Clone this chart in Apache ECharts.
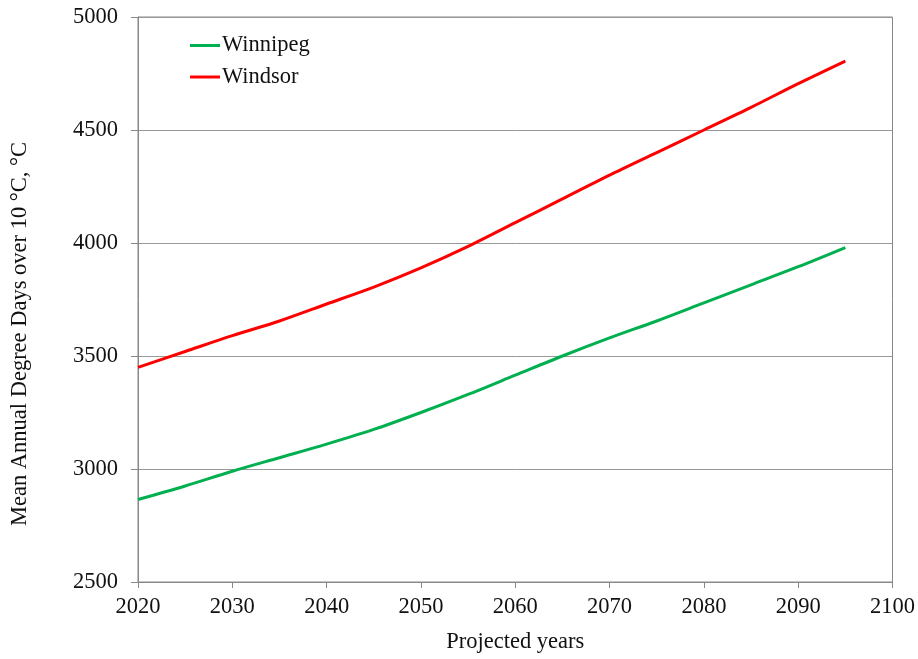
<!DOCTYPE html>
<html>
<head>
<meta charset="utf-8">
<script src="https://cdn.jsdelivr.net/npm/echarts@6/dist/echarts.min.js"></script>
<style>
  html, body { margin: 0; padding: 0; background: #fff; }
  #chart { width: 918px; height: 659px; }
</style>
</head>
<body>
<div id="chart"></div>
<script>
// Projected years
const years = [2020, 2025, 2030, 2035, 2040, 2045, 2050, 2055, 2060, 2065, 2070, 2075, 2080, 2085, 2090, 2095];
// Mean annual degree days over 10 °C
const winnipeg = [2865, 2925, 2990, 3050, 3110, 3175, 3250, 3330, 3415, 3500, 3580, 3655, 3735, 3815, 3895, 3980];
const windsor  = [3450, 3520, 3590, 3655, 3730, 3805, 3890, 3985, 4090, 4195, 4300, 4400, 4500, 4600, 4705, 4805];
const yTitle = 'Mean Annual Degree Days over 10 \u00B0C, \u00B0C';

const font = '"Liberation Serif", "Times New Roman", serif';
const fs = 22.5;
const pairs = (xs, ys) => xs.map((x, i) => [x, ys[i]]);
const plain = v => String(v);

const chart = echarts.init(document.getElementById('chart'));
chart.setOption({
  animation: false,
  backgroundColor: '#fff',
  grid: { left: 138, right: 24, top: 17, bottom: 75, show: true, borderColor: '#888', borderWidth: 1 },
  legend: {
    orient: 'vertical',
    left: 185, top: 29,
    itemWidth: 30, itemHeight: 3, itemGap: 8.5,
    icon: 'rect',
    textStyle: { fontFamily: font, fontSize: fs, color: '#111', padding: [0, 0, 0, -3] },
    data: ['Winnipeg', 'Windsor']
  },
  graphic: [{
    type: 'text',
    rotation: Math.PI / 2,
    x: 20, y: 334,
    style: { text: yTitle, font: fs + 'px ' + font, fill: '#111', textAlign: 'center', textVerticalAlign: 'middle' }
  }],
  xAxis: {
    type: 'value', min: 2020, max: 2100, interval: 10,
    name: 'Projected years', nameLocation: 'middle', nameGap: 49,
    nameTextStyle: { fontFamily: font, fontSize: fs, color: '#111' },
    axisLine: { show: true, lineStyle: { color: '#888' } },
    axisTick: { show: true, length: 6, lineStyle: { color: '#888' } },
    axisLabel: { fontFamily: font, fontSize: fs, color: '#111', margin: 14, formatter: plain },
    splitLine: { show: false }
  },
  yAxis: {
    type: 'value', min: 2500, max: 5000, interval: 500,
    axisLine: { show: true, lineStyle: { color: '#888' } },
    axisTick: { show: true, length: 7, lineStyle: { color: '#888' } },
    axisLabel: { fontFamily: font, fontSize: fs, color: '#111', margin: 20, formatter: plain },
    splitLine: { show: true, lineStyle: { color: '#999', width: 1 } }
  },
  series: [
    { name: 'Winnipeg', type: 'line', data: pairs(years, winnipeg), smooth: 0.3, showSymbol: false,
      itemStyle: { color: '#00b050' }, lineStyle: { color: '#00b050', width: 3 } },
    { name: 'Windsor', type: 'line', data: pairs(years, windsor), smooth: 0.3, showSymbol: false,
      itemStyle: { color: '#ff0000' }, lineStyle: { color: '#ff0000', width: 3 } }
  ]
});
</script>
</body>
</html>
